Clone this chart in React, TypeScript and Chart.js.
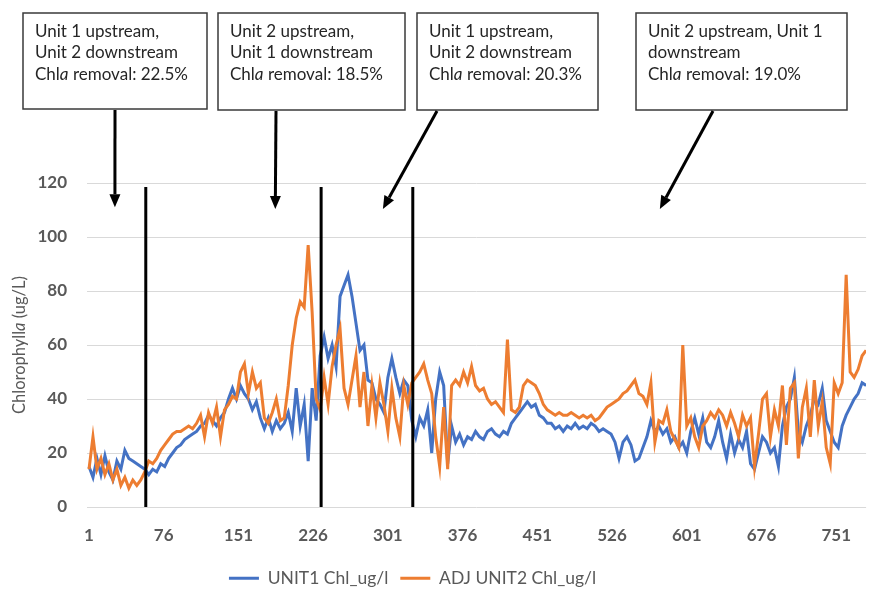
import React, { useEffect, useRef } from "react";
import { Chart, registerables } from "chart.js";

Chart.register(...registerables);

// ---- data (one sample every 4 days) ----
const SAMPLE_STEP = 4;
const unit1Values = [
  15, 11, 18, 12, 19, 13, 10, 17, 14, 21, 18, 17, 16, 15, 14, 12, 14, 13, 16, 15,
  18, 20, 22, 23, 25, 26, 27, 28, 30, 31, 34, 32, 30, 33, 35, 40, 44, 40, 45, 42,
  40, 36, 39, 33, 29, 33, 28, 32, 29, 31, 35, 28, 44, 30, 38, 17, 44, 32, 56, 63,
  55, 60, 52, 78, 82, 86, 78, 68, 58, 60, 47, 46, 40, 38, 35, 48, 55, 48, 42, 47,
  45, 32, 26, 33, 30, 36, 20, 40, 50, 45, 16, 30, 24, 27, 23, 26, 25, 28, 26, 25,
  28, 29, 27, 26, 28, 27, 31, 33, 35, 37, 39, 37, 38, 34, 33, 31, 31, 29, 30, 28,
  30, 29, 31, 29, 30, 29, 31, 30, 28, 29, 28, 27, 24, 18, 24, 26, 23, 17, 18, 22,
  26, 32, 28, 30, 27, 29, 24, 26, 22, 24, 20, 28, 33, 27, 33, 24, 22, 26, 32, 24,
  18, 27, 20, 25, 22, 28, 16, 14, 20, 26, 24, 20, 22, 15, 30, 37, 40, 48, 28, 24,
  30, 34, 40, 38, 44, 32, 28, 24, 22, 30, 34, 37, 40, 42, 46, 45,
];
const unit2Values = [
  14, 26, 14, 18, 12, 16, 10, 14, 8, 11, 7, 10, 8, 10, 13, 17, 16, 18, 21, 23,
  25, 27, 28, 28, 29, 30, 29, 31, 34, 26, 35, 31, 37, 26, 36, 38, 41, 40, 50, 53,
  42, 50, 44, 46, 33, 31, 35, 40, 32, 33, 45, 60, 70, 76, 74, 97, 72, 40, 36, 48,
  38, 52, 60, 66, 44, 38, 47, 56, 37, 50, 30, 45, 33, 46, 38, 28, 44, 33, 26, 45,
  38, 46, 48, 50, 53, 47, 42, 26, 15, 37, 14, 45, 47, 45, 50, 46, 52, 45, 43, 44,
  40, 38, 39, 37, 35, 62, 36, 35, 37, 45, 47, 46, 45, 42, 38, 36, 35, 34, 35, 34,
  34, 35, 34, 33, 34, 33, 34, 32, 33, 35, 37, 38, 39, 40, 42, 43, 45, 47, 42, 41,
  38, 46, 24, 32, 31, 36, 28, 25, 22, 60, 30, 33, 26, 22, 30, 32, 35, 33, 36, 34,
  30, 35, 31, 26, 34, 30, 33, 15, 27, 40, 42, 26, 36, 30, 45, 23, 44, 46, 18, 37,
  44, 26, 47, 30, 39, 22, 16, 46, 42, 46, 86, 50, 48, 51, 56, 58,
];
const sampleDays = unit1Values.map((_, k) => 1 + SAMPLE_STEP * k);

const seriesNames = ["UNIT1 Chl_ug/l", "ADJ UNIT2 Chl_ug/l"];
const seriesColors = ["#4472C4", "#ED7D31"];
const xTickLabels = [1, 76, 151, 226, 301, 376, 451, 526, 601, 676, 751];
const yMin = 0;
const yMax = 120;
const yStep = 20;
const yTitleParts = ["Chlorophyll", "a", " (ug/L)"];

// unit-configuration switch days (vertical lines) and their top value
const switchDays = [58, 234, 326];
const switchTop = 118.5;

// annotation notes
const noteHeadLines = [
  ["Unit 1 upstream,", "Unit 2 downstream"],
  ["Unit 2 upstream,", "Unit 1 downstream"],
  ["Unit 1 upstream,", "Unit 2 downstream"],
  ["Unit 2 upstream, Unit 1", "downstream"],
];
const noteRemoval = ["22.5%", "18.5%", "20.3%", "19.0%"];
// arrow tips in data coordinates [day, value]
const arrowTipDays = [27, 188, 296, 574];
const arrowTipValues = [111, 110.4, 110.4, 110.4];

// ---- layout (pixels) ----
const W = 869;
const H = 592;
const PLOT_BOTTOM = 507;
const noteBoxes = [
  { x: 23, y: 13, w: 184, h: 96, ax: 115 },
  { x: 218, y: 13, w: 187, h: 97, ax: 276 },
  { x: 417, y: 13, w: 181, h: 97, ax: 437 },
  { x: 636, y: 13, w: 211, h: 97, ax: 713 },
];
const FONT = "Lato, 'Open Sans', sans-serif";
const TEXT_GREY = "#595959";
const NOTE_FONT_SIZE = 17;
const Y_TITLE_SIZE = 16.5;

const annotationPlugin = {
  id: "notes",
  afterLayout(chart: any) {
    const lg = chart.legend;
    if (lg) {
      lg.left -= 22;
      lg.right -= 22;
      lg.top += 5;
      lg.bottom += 5;
    }
  },
  afterDatasetsDraw(chart: any) {
    const ctx = chart.ctx;
    const xs = chart.scales.x;
    const ys = chart.scales.y;
    ctx.save();
    ctx.strokeStyle = "#000";
    ctx.lineWidth = 3;
    switchDays.forEach((d) => {
      const px = xs.getPixelForValue(d);
      ctx.beginPath();
      ctx.moveTo(px, ys.getPixelForValue(switchTop));
      ctx.lineTo(px, ys.getPixelForValue(0));
      ctx.stroke();
    });
    ctx.restore();
  },
  afterDraw(chart: any) {
    const ctx = chart.ctx;
    const xs = chart.scales.x;
    const ys = chart.scales.y;
    ctx.save();
    const normal = `${NOTE_FONT_SIZE}px ${FONT}`;
    const italic = `italic ${NOTE_FONT_SIZE}px ${FONT}`;
    noteBoxes.forEach((b, i) => {
      ctx.fillStyle = "#fff";
      ctx.fillRect(b.x, b.y, b.w, b.h);
      ctx.strokeStyle = "#3a3a3a";
      ctx.lineWidth = 1.5;
      ctx.strokeRect(b.x, b.y, b.w, b.h);
      ctx.fillStyle = "#262626";
      ctx.textBaseline = "middle";
      ctx.textAlign = "left";
      const tx = b.x + 12;
      const lineYs = [b.y + 19, b.y + 40, b.y + 62];
      ctx.font = normal;
      noteHeadLines[i].forEach((t, j) => ctx.fillText(t, tx, lineYs[j]));
      let cx = tx;
      const ly = lineYs[2];
      ctx.fillText("Chl", cx, ly);
      cx += ctx.measureText("Chl").width;
      ctx.font = italic;
      ctx.fillText("a", cx, ly);
      cx += ctx.measureText("a").width;
      ctx.font = normal;
      ctx.fillText(` removal: ${noteRemoval[i]}`, cx, ly);

      const sx = b.ax;
      const sy = b.y + b.h + 1;
      const ex = xs.getPixelForValue(arrowTipDays[i]);
      const ey = ys.getPixelForValue(arrowTipValues[i]);
      const ang = Math.atan2(ey - sy, ex - sx);
      const headLen = 13;
      const headHalf = 5.5;
      const bx = ex - headLen * Math.cos(ang);
      const by = ey - headLen * Math.sin(ang);
      ctx.strokeStyle = "#000";
      ctx.lineWidth = 3;
      ctx.beginPath();
      ctx.moveTo(sx, sy);
      ctx.lineTo(bx, by);
      ctx.stroke();
      ctx.fillStyle = "#000";
      ctx.beginPath();
      ctx.moveTo(ex, ey);
      ctx.lineTo(bx + headHalf * Math.sin(ang), by - headHalf * Math.cos(ang));
      ctx.lineTo(bx - headHalf * Math.sin(ang), by + headHalf * Math.cos(ang));
      ctx.closePath();
      ctx.fill();
    });

    const fonts = [
      `${Y_TITLE_SIZE}px ${FONT}`,
      `italic ${Y_TITLE_SIZE}px ${FONT}`,
      `${Y_TITLE_SIZE}px ${FONT}`,
    ];
    const widths = yTitleParts.map((t, k) => {
      ctx.font = fonts[k];
      return ctx.measureText(t).width;
    });
    const total = widths.reduce((a, c) => a + c, 0);
    const cy = (chart.chartArea.top + chart.chartArea.bottom) / 2;
    ctx.translate(20, cy);
    ctx.rotate(-Math.PI / 2);
    ctx.fillStyle = TEXT_GREY;
    ctx.textBaseline = "middle";
    ctx.textAlign = "left";
    let px = -total / 2;
    yTitleParts.forEach((t, k) => {
      ctx.font = fonts[k];
      ctx.fillText(t, px, 0);
      px += widths[k];
    });
    ctx.restore();
  },
};

export default function App() {
  const ref = useRef<HTMLCanvasElement | null>(null);

  useEffect(() => {
    if (!ref.current) return;
    const makeData = (vals: number[]) => vals.map((v, k) => ({ x: sampleDays[k], y: v }));
    const chart = new Chart(ref.current, {
      type: "line",
      data: {
        datasets: [
          {
            label: seriesNames[0],
            data: makeData(unit1Values),
            borderColor: seriesColors[0],
            backgroundColor: seriesColors[0],
            borderWidth: 3,
            pointRadius: 0,
            tension: 0,
            order: 1,
          },
          {
            label: seriesNames[1],
            data: makeData(unit2Values),
            borderColor: seriesColors[1],
            backgroundColor: seriesColors[1],
            borderWidth: 3,
            pointRadius: 0,
            tension: 0,
            order: 0,
          },
        ],
      },
      options: {
        responsive: false,
        animation: false,
        layout: { padding: { top: 183, left: 0, right: 0, bottom: 0 } },
        plugins: {
          tooltip: { enabled: false },
          legend: {
            position: "bottom",
            labels: {
              boxWidth: 30,
              boxHeight: 3,
              padding: 12,
              color: TEXT_GREY,
              font: { family: FONT, size: 17.5 },
              generateLabels: (c: any) =>
                c.data.datasets.map((ds: any, i: number) => ({
                  text: ds.label,
                  fillStyle: ds.borderColor,
                  strokeStyle: ds.borderColor,
                  lineWidth: 0,
                  hidden: false,
                  datasetIndex: i,
                  fontColor: TEXT_GREY,
                })),
            },
          },
        },
        scales: {
          x: {
            type: "linear",
            min: -1,
            max: 781,
            afterBuildTicks: (scale: any) => {
              scale.ticks = xTickLabels.map((v) => ({ value: v }));
            },
            afterFit: (scale: any) => {
              const lh = scale.chart.legend ? scale.chart.legend.height : 40;
              scale.height = H - PLOT_BOTTOM - lh;
            },
            grid: { display: false, drawTicks: false },
            border: { display: false },
            ticks: {
              autoSkip: false,
              maxRotation: 0,
              padding: 18,
              color: TEXT_GREY,
              font: { family: FONT, size: 17, weight: "bold" },
              callback: (v: any) => String(v),
            },
          },
          y: {
            min: yMin,
            max: yMax,
            afterFit: (scale: any) => {
              scale.width = 87;
            },
            grid: { color: "#d9d9d9", lineWidth: 1, drawTicks: false },
            border: { display: false },
            ticks: {
              stepSize: yStep,
              padding: 20,
              color: TEXT_GREY,
              font: { family: FONT, size: 17, weight: "bold" },
            },
          },
        },
      },
      plugins: [annotationPlugin],
    } as any);
    return () => chart.destroy();
  }, []);

  return (
    <div style={{ position: "fixed", left: 0, top: 0, width: W, height: H, background: "#fff" }}>
      <canvas ref={ref} width={W} height={H} style={{ width: W, height: H, display: "block" }} />
    </div>
  );
}
